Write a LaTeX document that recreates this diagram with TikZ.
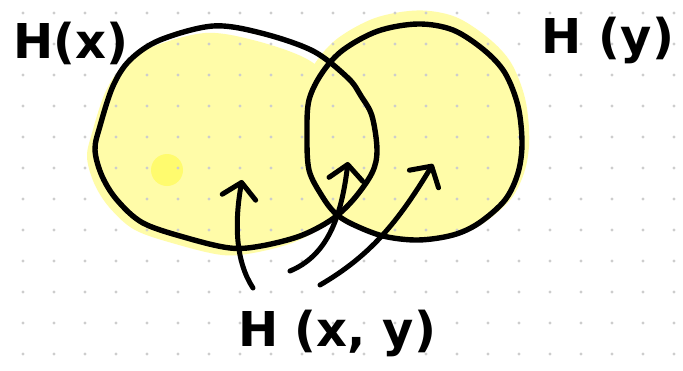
\documentclass[tikz,border=0pt]{standalone}
\usepackage{fontspec}
\setmainfont{DejaVu Sans}
\usetikzlibrary{arrows.meta}

\definecolor{hlyellow}{RGB}{255,252,168}
\definecolor{hlspot}{RGB}{255,251,110}
\definecolor{dotgray}{RGB}{205,205,205}

% the two hand drawn rings
\def\leftring{plot[smooth cycle, tension=0.55] coordinates {
  (213,26) (261,33) (313,51) (348,78) (361,96) (372,116) (377,150)
  (372,173) (353,200) (331,220) (300,236) (261,246) (230,248)
  (187,238) (143,223) (117,200) (102,176) (95,150) (100,126)
  (113,86) (130,60) (160,40)}}
\def\rightring{plot[smooth cycle, tension=0.55] coordinates {
  (418,24) (453,30) (484,50) (505,73) (518,106) (522,143) (518,173)
  (505,200) (479,223) (453,235) (418,240) (383,236) (352,224)
  (335,213) (322,196) (309,170) (307,133) (309,100) (322,73)
  (343,50) (378,31)}}

\begin{document}
\begin{tikzpicture}[x=1pt, y=-1pt,
  ring/.style={draw=black, line width=5.4pt, line join=round},
  pointer/.style={draw=black, line width=5pt, line cap=round,
    -{Straight Barb[length=15pt, width=34pt, round]}},
  handtext/.style={font=\bfseries\fontsize{48}{52}\selectfont, inner sep=0pt}]
  \useasboundingbox (0,0) rectangle (683,370);
  \fill[white] (0,0) rectangle (683,370);

  % Highlighter fill
  \begin{scope}[shift={(-8,7)}]
    \fill[hlyellow] \leftring;
  \end{scope}
  \begin{scope}[shift={(418,126)}, scale=1.07, shift={(-418,-132)}]
    \fill[hlyellow] \rightring;
  \end{scope}
  \fill[hlspot] (167,170) circle (16);

  % Dotted paper
  \foreach \gx in {0,...,21}
    \foreach \gy in {0,...,11}
      \fill[dotgray] (23+31*\gx, 13+31*\gy) circle (1.7pt);

  % Rings
  \draw[ring] \leftring;
  \draw[ring] \rightring;

  % Labels
  \node[handtext] (hx)  at (71, 43)  {H(x)};
  \node[handtext] (hy)  at (608, 40) {H (y)};
  \node[handtext] (hxy) at (337, 333) {H (x, y)};

  % Arrow ends
  \coordinate (s1) at (253, 288);
  \coordinate (t1) at (242, 180);
  \coordinate (s2) at (290, 271);
  \coordinate (t2) at (348, 162);
  \coordinate (s3) at (320, 285);
  \coordinate (t3) at (433, 164);

  % Pointers up from H(x,y)
  \draw[pointer] (s1) .. controls (236, 262) and (234, 225) .. (t1);
  \draw[pointer] (s2) .. controls (326, 256) and (341, 220) .. (t2);
  \draw[pointer] (s3) .. controls (370, 256) and (398, 222) .. (t3);
\end{tikzpicture}
\end{document}
